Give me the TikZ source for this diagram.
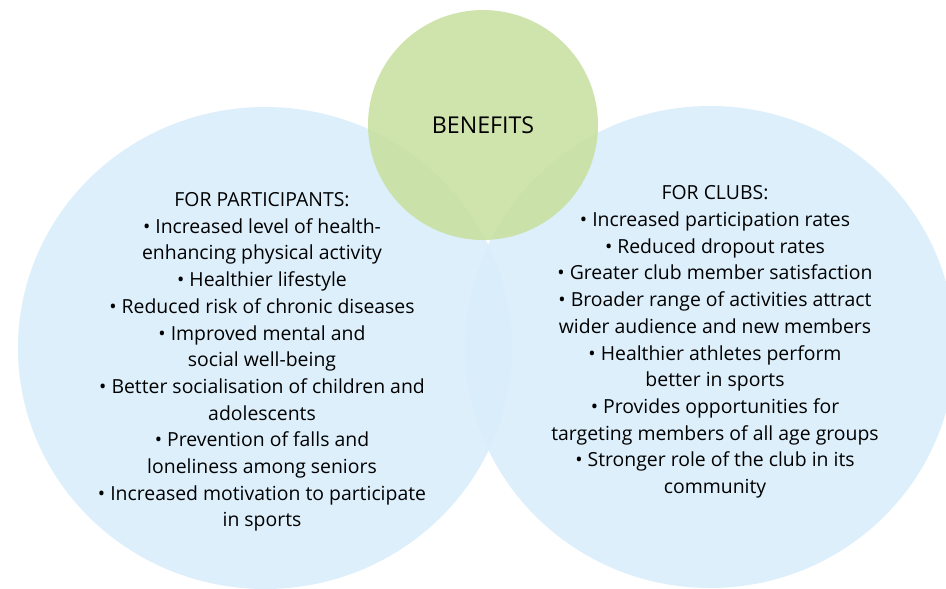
\documentclass[tikz,border=0pt]{standalone}
\usepackage{fontspec}
\setmainfont{Open Sans}
\usepackage{tikz}

\definecolor{discblue}{RGB}{216,237,251}
\definecolor{discgreen}{RGB}{200,224,160}

\tikzset{
  bluedisc/.style={fill=discblue, fill opacity=0.88},
  greendisc/.style={fill=discgreen, fill opacity=0.88},
  listtext/.style={align=center, text=black, font=\fontsize{19.4}{26.7}\selectfont},
  headtext/.style={text=black, font=\fontsize{23.2}{26}\selectfont}
}

\begin{document}
\begin{tikzpicture}[x=1pt,y=-1pt]

  \useasboundingbox (0,0) rectangle (946,589);

  % --- Circles ---
  \fill[bluedisc] (265,348) ellipse[x radius=247, y radius=241];
  \fill[bluedisc] (710,347) ellipse[x radius=245, y radius=241];
  \fill[greendisc] (483,125) circle[radius=115];

  % --- Title ---
  \node[headtext] (benefits) at (483,125) {BENEFITS};

  % --- For participants ---
  \node[listtext] (participants) at (262,362) {%
    FOR PARTICIPANTS:\\
    \textbullet\ Increased level of health-\\
    enhancing physical activity\\
    \textbullet\ Healthier lifestyle\\
    \textbullet\ Reduced risk of chronic diseases\\
    \textbullet\ Improved mental and\\
    social well-being\\
    \textbullet\ Better socialisation of children and\\
    adolescents\\
    \textbullet\ Prevention of falls and\\
    loneliness among seniors\\
    \textbullet\ Increased motivation to participate\\
    in sports};

  % --- For clubs ---
  \node[listtext] (clubs) at (715,342) {%
    FOR CLUBS:\\
    \textbullet\ Increased participation rates\\
    \textbullet\ Reduced dropout rates\\
    \textbullet\ Greater club member satisfaction\\
    \textbullet\ Broader range of activities attract\\
    wider audience and new members\\
    \textbullet\ Healthier athletes perform\\
    better in sports\\
    \textbullet\ Provides opportunities for\\
    targeting members of all age groups\\
    \textbullet\ Stronger role of the club in its\\
    community};

\end{tikzpicture}
\end{document}
